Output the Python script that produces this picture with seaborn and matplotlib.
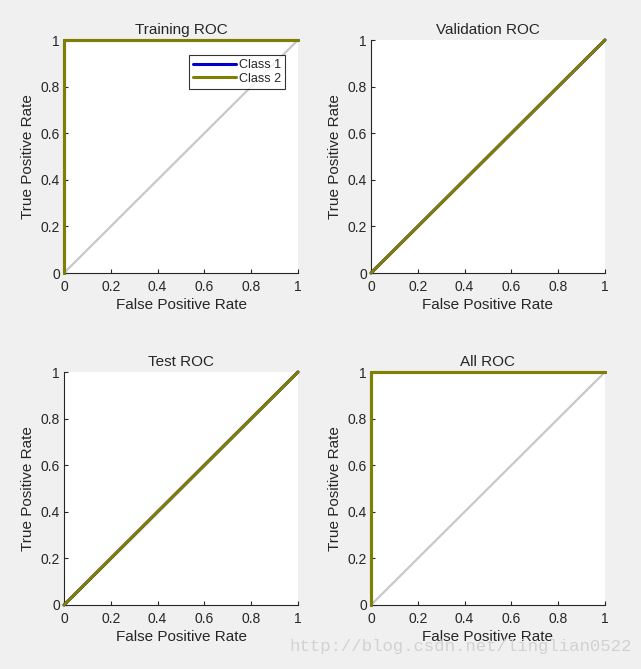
import pandas as pd
import matplotlib.pyplot as plt
import seaborn as sns

# ROC curves (FPR, TPR) per subset
titles = ["Training ROC", "Validation ROC", "Test ROC", "All ROC"]
fpr_class1 = [[0, 0, 1], [0, 1], [0, 1], [0, 0, 1]]
tpr_class1 = [[0, 1, 1], [0, 1], [0, 1], [0, 1, 1]]
fpr_class2 = [[0, 0, 1], [0, 1], [0, 1], [0, 0, 1]]
tpr_class2 = [[0, 1, 1], [0, 1], [0, 1], [0, 1, 1]]
diag = [0, 1]
ticks = [0, 0.2, 0.4, 0.6, 0.8, 1]
tick_labels = ["0", "0.2", "0.4", "0.6", "0.8", "1"]

sns.set_style("white")
plt.rcParams['font.family'] = ['Liberation Sans', 'DejaVu Sans']

fig = plt.figure(figsize=(6.41, 6.69), dpi=100, facecolor="#f0f0f0")
lefts = [64, 371, 64, 371]
tops = [40, 40, 372, 372]
W, H = 641, 669
palette = {"Class 1": "#0000cc", "Class 2": "#808000"}
txt = "#262626"

for i in range(4):
    ax = fig.add_axes([lefts[i] / W, 1 - (tops[i] + 233) / H, 234 / W, 233 / H])
    ax.set_facecolor("white")
    rows = []
    for k, (fx, ty) in enumerate([(fpr_class1[i], tpr_class1[i]), (fpr_class2[i], tpr_class2[i])]):
        for j, (a, b) in enumerate(zip(fx, ty)):
            rows.append({"FPR": a, "TPR": b, "cls": f"Class {k + 1}", "order": j})
    df = pd.DataFrame(rows)
    ax.plot(diag, diag, color="#c8c8c8", lw=1.6, zorder=1)
    sns.lineplot(data=df, x="FPR", y="TPR", hue="cls", palette=palette, sort=False,
                 estimator=None, units="cls", lw=2.2, ax=ax, legend=(i == 0), zorder=3)
    ax.set_xlim(0, 1)
    ax.set_ylim(0, 1)
    ax.set_xticks(ticks)
    ax.set_xticklabels(tick_labels)
    ax.set_yticks(ticks)
    ax.set_yticklabels(tick_labels)
    ax.tick_params(direction="in", length=3, width=0.8, labelsize=10, colors=txt,
                   bottom=True, left=True)
    ax.tick_params(axis="x", pad=5)
    ax.tick_params(axis="y", pad=3)
    for s in ["top", "right"]:
        ax.spines[s].set_visible(False)
    for s in ["left", "bottom"]:
        ax.spines[s].set_color(txt)
        ax.spines[s].set_linewidth(0.8)
    ax.set_title(titles[i], fontsize=11, color=txt, pad=4)
    ax.set_xlabel("False Positive Rate", fontsize=11, color=txt, labelpad=3)
    ax.set_ylabel("True Positive Rate", fontsize=11, color=txt, labelpad=4)
    for ln in ax.lines:
        ln.set_clip_on(False)
    if i == 0:
        leg = ax.legend(loc="upper right", bbox_to_anchor=(0.945, 0.935), fontsize=9, frameon=True,
                        fancybox=False, edgecolor="black", handlelength=3.4, borderpad=0.3,
                        labelspacing=0.15, handletextpad=0.3, borderaxespad=0)
        leg.get_frame().set_linewidth(0.8)
        for h in leg.get_lines():
            h.set_linewidth(2.2)

fig.text(0.985, 0.034, "http://blog.csdn.net/linglian0522", ha="right", va="center",
         fontsize=12.5, color="#d2d2d2", family=["Liberation Mono", "DejaVu Sans Mono"])

fig.savefig("out.png", dpi=100, facecolor=fig.get_facecolor())
